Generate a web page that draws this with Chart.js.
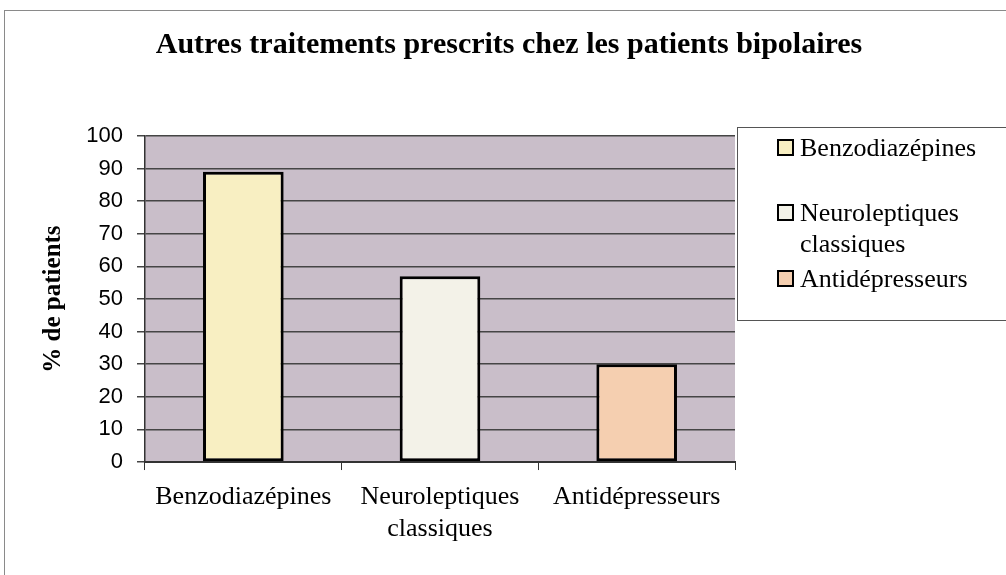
<!DOCTYPE html>
<html>
<head>
<meta charset="utf-8">
<script src="https://cdn.jsdelivr.net/npm/chart.js@4.4.0/dist/chart.umd.min.js"></script>
<style>
  html, body { margin: 0; padding: 0; background: #fff; overflow: hidden; }
  #wrap { position: relative; width: 1006px; height: 575px; }
  #frame { position: absolute; left: 4px; top: 10px; width: 1100px; height: 700px; border: 1px solid #8a8a8a; box-sizing: border-box; }
  canvas { position: absolute; left: 0; top: 0; }
</style>
</head>
<body>
<div id="wrap">
  <div id="frame"></div>
  <canvas id="chart" width="1006" height="575"></canvas>
</div>
<script>
const categories = ['Benzodiazépines', 'Neuroleptiques classiques', 'Antidépresseurs'];
const axisLabels = [['Benzodiazépines'], ['Neuroleptiques', 'classiques'], ['Antidépresseurs']];
const legendLines = [['Benzodiazépines'], ['Neuroleptiques', 'classiques'], ['Antidépresseurs']];
const values = [89, 57, 30];
const barColors = ['#f8efc2', '#f3f2e8', '#f5cfb0'];

const serif = '"Liberation Serif", "Times New Roman", serif';

// plot background
const plotBg = {
  id: 'plotBg',
  beforeDraw(chart) {
    const { ctx, chartArea: a } = chart;
    ctx.save();
    ctx.fillStyle = '#c9bec9';
    ctx.fillRect(a.left, a.top, a.right - a.left, a.bottom - a.top);
    ctx.restore();
  }
};

// legend box on the right, like the original
const boxLegend = {
  id: 'boxLegend',
  afterDraw(chart) {
    const ctx = chart.ctx;
    ctx.save();
    ctx.fillStyle = '#fff';
    ctx.fillRect(737, 127, 300, 194);
    ctx.strokeStyle = '#555';
    ctx.lineWidth = 1;
    ctx.strokeRect(737.5, 127.5, 300, 193);

    const baselines = [[156], [221, 252], [287]];
    ctx.font = '26px ' + serif;
    ctx.textBaseline = 'alphabetic';
    ctx.textAlign = 'left';
    categories.forEach((c, i) => {
      const b = baselines[i][0];
      ctx.fillStyle = chart.data.datasets[0].backgroundColor[i];
      ctx.fillRect(778, b - 16, 15, 15);
      ctx.strokeStyle = '#000';
      ctx.lineWidth = 2;
      ctx.strokeRect(778, b - 16, 15, 15);
      ctx.fillStyle = '#000';
      legendLines[i].forEach((t, j) => ctx.fillText(t, 800, baselines[i][j]));
    });
    ctx.restore();
  }
};

new Chart(document.getElementById('chart'), {
  type: 'bar',
  data: {
    labels: axisLabels,
    datasets: [{
      label: '% de patients',
      data: values,
      backgroundColor: barColors,
      borderColor: '#000',
      borderWidth: 3,
      borderSkipped: false,
      barPercentage: 0.41,
      categoryPercentage: 1
    }]
  },
  options: {
    responsive: false,
    animation: false,
    layout: { padding: { left: 12, right: 0, top: 0, bottom: 19 } },
    plugins: {
      legend: { display: false },
      tooltip: { enabled: false },
      title: {
        display: true,
        text: 'Autres traitements prescrits chez les patients bipolaires',
        color: '#000',
        font: { family: serif, size: 30, weight: 'bold', lineHeight: 1.2 },
        padding: { top: 27, bottom: 73 }
      }
    },
    scales: {
      x: {
        grid: { drawOnChartArea: false, drawTicks: true, tickLength: 8, color: '#333', lineWidth: 1 },
        border: { display: true, color: '#333', width: 2 },
        ticks: { color: '#000', padding: 11, font: { family: serif, size: 26, lineHeight: 1.23 } }
      },
      y: {
        min: 0,
        max: 100,
        ticks: { stepSize: 10, color: '#000', padding: 14, font: { family: '"Liberation Sans", Arial, sans-serif', size: 22 } },
        grid: { color: '#454545', lineWidth: 1.5, tickLength: 8 },
        border: { display: true, color: '#333', width: 1.5 },
        title: {
          display: true,
          text: '% de patients',
          color: '#000',
          font: { family: serif, size: 25, weight: 'bold', lineHeight: 1.2 },
          padding: { top: 27, bottom: 0 }
        },
        afterFit(scale) { scale.width = 133; }
      },
      y2: {
        position: 'right',
        display: true,
        ticks: { display: false },
        grid: { display: false },
        border: { display: false },
        afterFit(scale) { scale.width = 271; }
      }
    }
  },
  plugins: [plotBg, boxLegend]
});
</script>
</body>
</html>
